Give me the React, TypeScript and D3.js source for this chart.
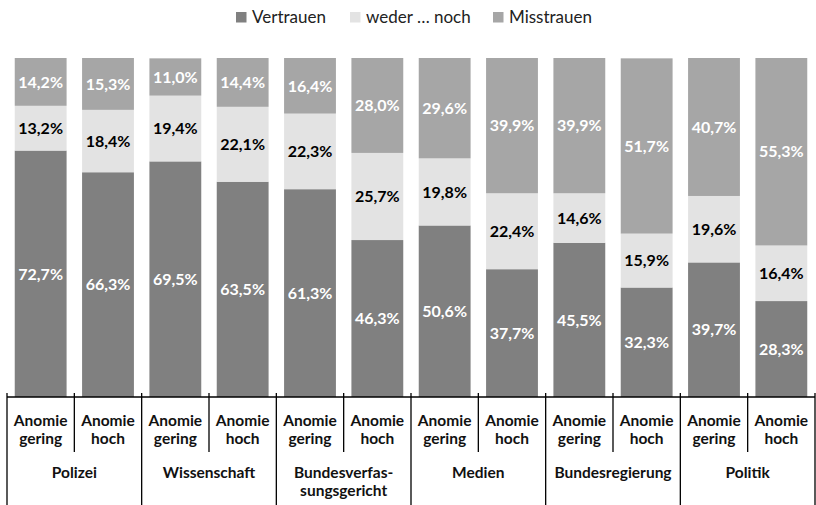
import React from "react";
import * as d3 from "d3";

const groups = ["Polizei", "Wissenschaft", "Bundesverfas-|sungsgericht", "Medien", "Bundesregierung", "Politik"];
const subgroups = ["Anomie|gering", "Anomie|hoch"];
const seriesNames = ["Vertrauen", "weder … noch", "Misstrauen"];
const vertrauen = [72.7, 66.3, 69.5, 63.5, 61.3, 46.3, 50.6, 37.7, 45.5, 32.3, 39.7, 28.3];
const weder = [13.2, 18.4, 19.4, 22.1, 22.3, 25.7, 19.8, 22.4, 14.6, 15.9, 19.6, 16.4];
const misstrauen = [14.2, 15.3, 11.0, 14.4, 16.4, 28.0, 29.6, 39.9, 39.9, 51.7, 40.7, 55.3];
const colors = ["#808080", "#e3e3e3", "#a6a6a6"];
const labelColors = ["#ffffff", "#000000", "#ffffff"];

const W = 816;
const H = 505;
const FONT = "Lato, 'Open Sans', sans-serif";

export default function App() {
  const keys = d3.range(groups.length * subgroups.length).map(String);
  const x = d3.scaleBand<string>().domain(keys).range([7, 815]).paddingInner(0.23).paddingOuter(0.115);
  const y = d3.scaleLinear().domain([0, 100]).range([397, 58]);
  const series = [vertrauen, weder, misstrauen];
  const fmt = (v: number) => v.toFixed(1).replace(".", ",") + "%";
  const step = x.step();
  const axisY = 397;

  const legendX = [236, 350, 493];

  return (
    <svg width={W} height={H} style={{ position: "absolute", left: 0, top: 0 }} fontFamily={FONT}>
      {/* legend */}
      {seriesNames.map((n, i) => (
        <g key={n}>
          <rect x={legendX[i]} y={12} width={10.5} height={10.5} fill={colors[i]} />
          <text x={legendX[i] + 16} y={22.5} fontSize={17} fill="#222">{n}</text>
        </g>
      ))}
      {/* bars */}
      {keys.map((k, i) => {
        let acc = 0;
        return (
          <g key={k}>
            {series.map((s, si) => {
              const v = s[i];
              const y0 = acc;
              const y1 = Math.min(100, acc + v);
              acc += v;
              const top = y(y1);
              const bottom = y(y0);
              return (
                <g key={si}>
                  <rect x={x(k)} y={top} width={x.bandwidth()} height={bottom - top} fill={colors[si]} />
                  <text
                    x={(x(k) as number) + x.bandwidth() / 2}
                    y={(top + bottom) / 2}
                    dy="0.36em"
                    textAnchor="middle"
                    fontSize={16}
                    fontWeight={700}
                    fill={labelColors[si]}
                  >
                    {fmt(v)}
                  </text>
                </g>
              );
            })}
          </g>
        );
      })}
      {/* axis */}
      <line x1={7} x2={815} y1={axisY} y2={axisY} stroke="#000" strokeWidth={1.3} />
      {d3.range(keys.length + 1).map((i) => {
        const xx = 7 + i * step;
        const isGroup = i % subgroups.length === 0;
        return (
          <line key={i} x1={xx} x2={xx} y1={393} y2={isGroup ? 505 : 452} stroke="#000" strokeWidth={1.3} />
        );
      })}
      {keys.map((k, i) => {
        const cx = (x(k) as number) + x.bandwidth() / 2;
        const lines = subgroups[i % subgroups.length].split("|");
        return (
          <text key={k} textAnchor="middle" fontSize={15.5} fontWeight={700} fill="#111">
            {lines.map((l, li) => (
              <tspan key={li} x={cx} y={425.5 + li * 18}>{l}</tspan>
            ))}
          </text>
        );
      })}
      {groups.map((g, gi) => {
        const cx = 7 + (gi + 0.5) * step * subgroups.length;
        const lines = g.split("|");
        return (
          <text key={g} textAnchor="middle" fontSize={15.5} fontWeight={700} fill="#111">
            {lines.map((l, li) => (
              <tspan key={li} x={cx} y={478 + li * 18}>{l}</tspan>
            ))}
          </text>
        );
      })}
    </svg>
  );
}
